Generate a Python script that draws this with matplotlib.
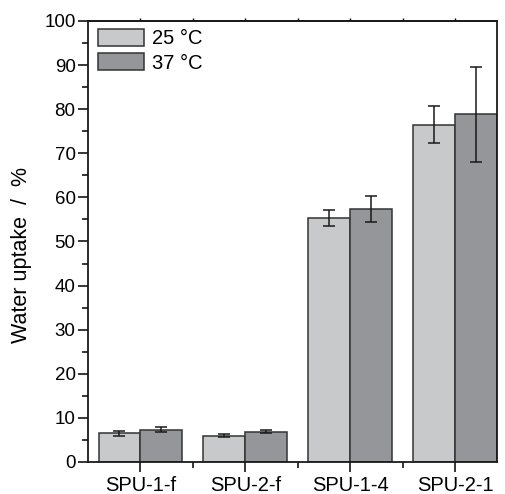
import matplotlib
matplotlib.use("Agg")
import matplotlib.pyplot as plt
import numpy as np
from matplotlib.ticker import MultipleLocator, FixedLocator

categories = ["SPU-1-f", "SPU-2-f", "SPU-1-4", "SPU-2-1"]
series_names = ["25 \u00b0C", "37 \u00b0C"]
vals_25 = [6.5, 6.0, 55.3, 76.5]
err_25 = [0.5, 0.3, 1.8, 4.2]
vals_37 = [7.3, 6.9, 57.4, 78.8]
err_37 = [0.6, 0.3, 2.9, 10.7]

plt.rcParams['font.family'] = ['Liberation Sans', 'DejaVu Sans']

fig = plt.figure(figsize=(5.06, 4.94), dpi=100)
ax = fig.add_axes([0.174, 0.0648, 0.808, 0.8927])

x = np.arange(len(categories))
w = 0.4
c1 = "#c8c9cb"
c2 = "#95969a"
ek = dict(ecolor="#1a1a1a", elinewidth=1.1, capsize=4, capthick=1.1)
ax.bar(x - w/2, vals_25, w, yerr=err_25, color=c1, edgecolor="#333333",
       linewidth=1.1, label=series_names[0], error_kw=ek)
ax.bar(x + w/2, vals_37, w, yerr=err_37, color=c2, edgecolor="#333333",
       linewidth=1.1, label=series_names[1], error_kw=ek)

ax.set_xlim(-0.5, 3.4)
ax.set_ylim(0, 100)
ax.set_xticks(x)
ax.set_xticklabels(categories, fontsize=14.5)
ax.xaxis.set_minor_locator(FixedLocator([0.5, 1.5, 2.5]))
ax.yaxis.set_major_locator(MultipleLocator(10))
ax.yaxis.set_minor_locator(MultipleLocator(5))
ax.tick_params(axis='y', which='major', direction='out', length=7, width=1.1, labelsize=13.5, pad=2)
ax.tick_params(axis='y', which='minor', direction='out', length=4, width=1.1)
ax.tick_params(axis='x', which='major', direction='out', length=7, width=1.1, pad=3)
ax.tick_params(axis='x', which='minor', direction='out', length=4, width=1.1)

# short ticks on the top spine
sec = ax.secondary_xaxis('top')
sec.set_xticks(x)
sec.xaxis.set_minor_locator(FixedLocator([0.5, 1.5, 2.5]))
sec.tick_params(axis='x', which='both', direction='out', length=2, width=1.0,
                labeltop=False)
sec.spines['top'].set_linewidth(1.3)
sec.spines['top'].set_color("#1a1a1a")

for s in ax.spines.values():
    s.set_linewidth(1.3)
    s.set_color("#1a1a1a")

ax.set_ylabel("Water uptake  /  %", fontsize=15.5)
ax.yaxis.set_label_coords(-0.137, 0.469)

leg = ax.legend(loc='upper left', frameon=False, fontsize=14.5,
                handlelength=2.3, handleheight=0.9, handletextpad=0.35,
                labelspacing=0.25, borderaxespad=0.0, borderpad=0.4,
                bbox_to_anchor=(0.005, 1.0))

fig.savefig("out.png", dpi=100)
